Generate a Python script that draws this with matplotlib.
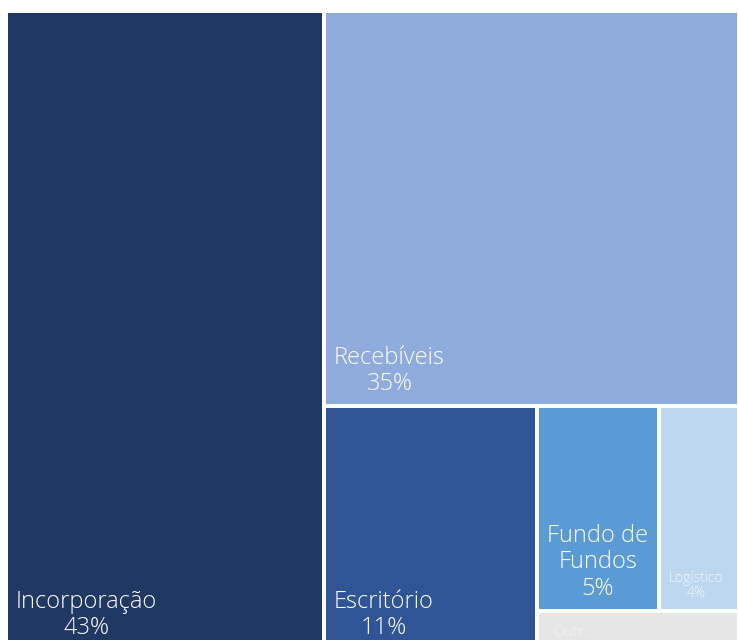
import textwrap
import matplotlib.pyplot as plt
from matplotlib.patches import Rectangle

# participação de cada segmento (%)
categorias = ["Incorporação", "Recebíveis", "Escritório",
              "Fundo de Fundos", "Logístico", "Outros"]
percentuais = [43.4, 35.0, 11.1, 5.3, 3.5, 1.7]
cores = ["#203864", "#8FAADC", "#2F5597", "#5B9BD5", "#BDD7EE", "#E7E6E6"]

# faixas do treemap: orientação e quantos itens entram em cada faixa
faixas = [("col", 1), ("row", 1), ("col", 1), ("row", 2), ("row", 1)]


def layout(valores, faixas, x, y, w, h):
    rects = []
    i = 0
    for orient, n in faixas:
        grupo = valores[i:i + n]
        frac = sum(grupo) / sum(valores[i:])
        if orient == "col":
            sw = w * frac
            yy = y
            for v in grupo:
                hh = h * v / sum(grupo)
                rects.append((x, yy, sw, hh))
                yy += hh
            x += sw
            w -= sw
        else:
            sh = h * frac
            xx = x
            for v in grupo:
                ww = w * v / sum(grupo)
                rects.append((xx, y, ww, sh))
                xx += ww
            y += sh
            h -= sh
        i += n
    return rects


plt.rcParams["font.family"] = ["Open Sans", "DejaVu Sans"]

fig = plt.figure(figsize=(7.38, 6.4), dpi=100)
ax = fig.add_axes([0, 0, 1, 1])
ax.set_xlim(0, 738)
ax.set_ylim(640, 0)
ax.axis("off")

gap = 2
rects = layout(percentuais, faixas, 6, 11, 733, 639)

for nome, pct, cor, (rx, ry, rw, rh) in zip(categorias, percentuais, cores, rects):
    ax.add_patch(Rectangle((rx + gap, ry + gap), rw - 2 * gap, rh - 2 * gap,
                           facecolor=cor, edgecolor="none"))
    if rh < 50:
        # célula baixa demais: rótulo truncado
        ax.text(rx + gap + 14, ry + gap + 20, nome[:4] + "...", ha="left",
                va="center", fontsize=10.5, color="white", alpha=0.6,
                fontweight="light")
    elif pct < 5:
        ax.text(rx + gap + 8, ry + rh - gap - 8, f"{nome}\n{pct:.0f}%",
                ha="left", va="bottom", multialignment="center",
                fontsize=10, color="white", alpha=0.8, linespacing=1.0,
                fontweight="light")
    else:
        texto = textwrap.fill(nome, width=max(int((rw - 22) / 12), 1))
        ax.text(rx + gap + 8, ry + rh - gap - 8, f"{texto}\n{pct:.0f}%",
                ha="left", va="bottom", multialignment="center",
                fontsize=17, color="white", linespacing=1.12,
                fontweight="light")

fig.savefig("out.png", dpi=100)
